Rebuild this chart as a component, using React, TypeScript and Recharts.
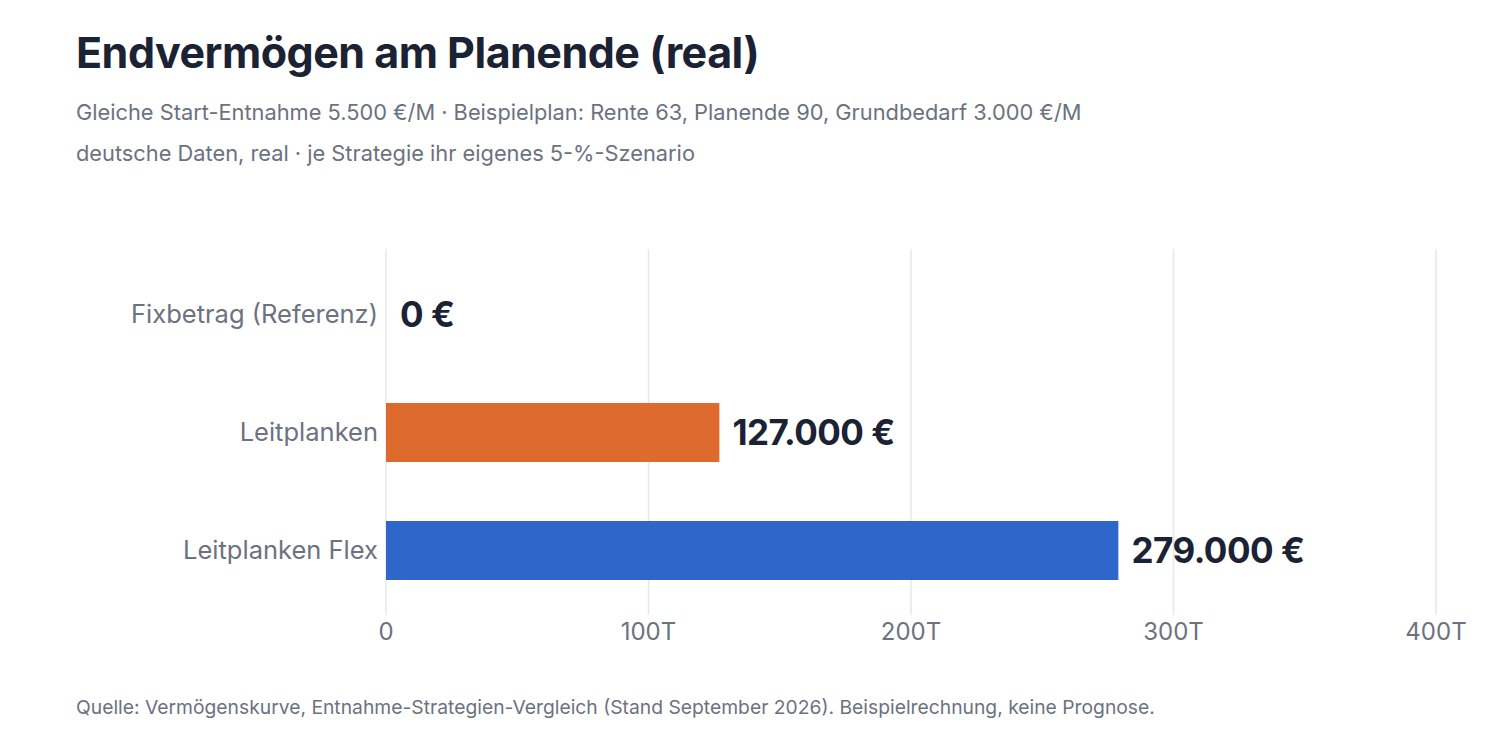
import React from "react";
import {
  BarChart,
  Bar,
  XAxis,
  YAxis,
  CartesianGrid,
  Cell,
  LabelList,
} from "recharts";

const strategies = ["Fixbetrag (Referenz)", "Leitplanken", "Leitplanken Flex"];
const endValues = [0, 127000, 279000];
const barColors = ["transparent", "#DF6A2D", "#2F66C9"];
const xTicks = [0, 100000, 200000, 300000, 400000];

const data = strategies.map((name, i) => ({ name, value: endValues[i] }));

const FONT = "Inter, 'Noto Sans', sans-serif";
const DARK = "#1b2233";
const GRAY = "#6b7280";

function euro(v: number) {
  const s = String(Math.round(v)).replace(/\B(?=(\d{3})+(?!\d))/g, ".");
  return `${s} €`;
}

function tickT(v: number) {
  return v === 0 ? "0" : `${v / 1000}T`;
}

export default function App() {
  return (
    <div
      style={{
        position: "absolute",
        left: 0,
        top: 0,
        width: 1512,
        height: 742,
        background: "#fff",
        fontFamily: FONT,
      }}
    >
      <div
        style={{
          position: "absolute",
          left: 76,
          top: 26,
          fontSize: 43,
          fontWeight: 700,
          color: DARK,
          letterSpacing: -0.5,
          whiteSpace: "nowrap",
        }}
      >
        Endvermögen am Planende (real)
      </div>
      <div
        style={{
          position: "absolute",
          left: 76,
          top: 99,
          fontSize: 21.8,
          color: GRAY,
          whiteSpace: "nowrap",
        }}
      >
        Gleiche Start-Entnahme 5.500 €/M · Beispielplan: Rente 63, Planende 90, Grundbedarf 3.000 €/M
      </div>
      <div
        style={{
          position: "absolute",
          left: 76,
          top: 140,
          fontSize: 21.8,
          color: GRAY,
          whiteSpace: "nowrap",
        }}
      >
        deutsche Daten, real · je Strategie ihr eigenes 5-%-Szenario
      </div>

      <div style={{ position: "absolute", left: 0, top: 0 }}>
        <BarChart
          width={1512}
          height={680}
          data={data}
          layout="vertical"
          margin={{ top: 249, right: 76, bottom: 25, left: 0 }}
        >
          <CartesianGrid horizontal={false} stroke="#e5e7eb" strokeWidth={1.5} />
          <XAxis
            type="number"
            domain={[0, 400000]}
            ticks={xTicks}
            tickFormatter={tickT}
            axisLine={false}
            tickLine={false}
            height={40}
            tick={{ fill: GRAY, fontSize: 24, fontFamily: FONT }}
          />
          <YAxis
            type="category"
            dataKey="name"
            width={386}
            axisLine={false}
            tickLine={false}
            padding={{ top: 6, bottom: 6 }}
            tick={{ fill: GRAY, fontSize: 25.5, fontFamily: FONT }}
          />
          <Bar dataKey="value" barSize={59} minPointSize={1} isAnimationActive={false}>
            {data.map((d, i) => (
              <Cell key={d.name} fill={barColors[i]} />
            ))}
            <LabelList
              dataKey="value"
              position="right"
              offset={13}
              formatter={(v: number) => euro(v)}
              style={{
                fill: DARK,
                fontSize: 35,
                fontWeight: 700,
                fontFamily: FONT,
                letterSpacing: -0.5,
              }}
            />
          </Bar>
        </BarChart>
      </div>

      <div
        style={{
          position: "absolute",
          left: 76,
          top: 695,
          fontSize: 19.3,
          color: GRAY,
          whiteSpace: "nowrap",
        }}
      >
        Quelle: Vermögenskurve, Entnahme-Strategien-Vergleich (Stand September 2026). Beispielrechnung, keine Prognose.
      </div>
    </div>
  );
}
